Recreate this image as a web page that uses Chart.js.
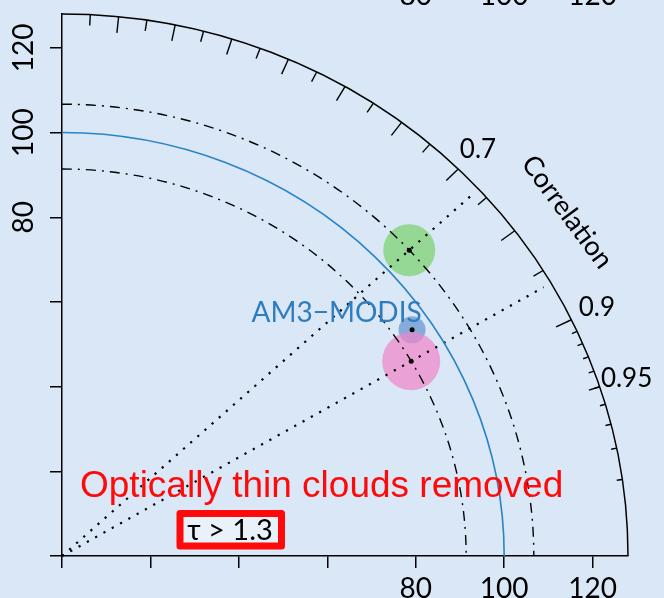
<!DOCTYPE html>
<html>
<head>
<meta charset="utf-8">
<script src="https://cdn.jsdelivr.net/npm/chart.js@4.4.1/dist/chart.umd.min.js"></script>
<style>
  html, body { margin: 0; padding: 0; background: #d9e7f6; }
  #wrap { width: 664px; height: 598px; position: relative; overflow: hidden; }
  canvas { display: block; }
</style>
</head>
<body>
<div id="wrap"><canvas id="taylor" width="664" height="598"></canvas></div>
<script>
// Taylor diagram: radius = standard deviation, angle = correlation with the reference
const seriesNames = ['Run 1', 'Run 2', 'Run 3'];
const stdDev      = [106.7, 91.4, 95.5];
const correlation = [0.736, 0.864, 0.829];
const refStdDev   = 100;
const maxStdDev   = 128;
const tickStep    = 20;
const xTickLabels = [80, 100, 120];
const yTickLabels = [80, 100, 120];
const corrLabels  = [0.7, 0.9, 0.95];
// series that get their own standard-deviation arc and correlation ray
const guideSeries = [0, 1];

// marker styling
const markerRadius = [26, 29, 13.5];
const markerFill = ['rgba(120,210,110,0.72)', 'rgba(240,135,200,0.72)', 'rgba(95,145,205,0.7)'];

const toXY = (sd, c) => ({ x: sd * c, y: sd * Math.sqrt(1 - c * c) });

const FONT = 'Lato';
const INK = '#000';

const taylorGuides = {
  id: 'taylorGuides',
  afterDatasetsDraw(chart) {
    const { ctx, scales: { x, y } } = chart;
    const cx = x.getPixelForValue(0), cy = y.getPixelForValue(0);
    const pt = (sd, c) => [x.getPixelForValue(sd * c), y.getPixelForValue(sd * Math.sqrt(1 - c * c))];
    const quarter = (r) => {
      ctx.beginPath();
      ctx.ellipse(cx, cy, x.getPixelForValue(r) - cx, cy - y.getPixelForValue(r), 0, -Math.PI / 2, 0);
      ctx.stroke();
    };
    ctx.save();

    // correlation rays through the guide series
    ctx.strokeStyle = INK; ctx.lineWidth = 2.2; ctx.setLineDash([2.2, 7.3]);
    guideSeries.forEach(i => {
      const [ex, ey] = pt(maxStdDev * 0.985, correlation[i]);
      ctx.beginPath(); ctx.moveTo(cx, cy); ctx.lineTo(ex, ey); ctx.stroke();
    });

    // standard-deviation arcs through the guide series
    ctx.lineWidth = 1.4; ctx.setLineDash([10, 6, 2, 6]);
    guideSeries.forEach(i => quarter(stdDev[i]));

    // reference standard deviation
    ctx.setLineDash([]);
    ctx.strokeStyle = '#2b83c6'; ctx.lineWidth = 1.6;
    quarter(refStdDev);

    // outer correlation axis
    ctx.strokeStyle = INK; ctx.lineWidth = 1.5;
    quarter(maxStdDev);

    const ticks = (list, frac) => list.forEach(c => {
      const [ox, oy] = pt(maxStdDev, c), [ix, iy] = pt(maxStdDev * frac, c);
      ctx.beginPath(); ctx.moveTo(ox, oy); ctx.lineTo(ix, iy); ctx.stroke();
    });
    const big = [], med = [], small = [];
    for (let k = 1; k <= 9; k++) big.push(k / 10);
    for (let k = 0; k <= 9; k++) med.push(0.05 + k / 10);
    for (let k = 91; k <= 99; k++) small.push(k / 100);
    ctx.lineWidth = 1.4;
    ticks(big, 0.97); ticks(med, 0.98); ticks(small, 0.99);

    // correlation labels
    ctx.fillStyle = INK;
    ctx.font = `26px ${FONT}`;
    ctx.textAlign = 'center'; ctx.textBaseline = 'middle';
    corrLabels.forEach(c => {
      const [lx, ly] = pt(maxStdDev * 1.05, c);
      ctx.fillText(String(c), lx, ly);
    });

    // axis title along the arc
    const cTitle = 0.815, th = Math.acos(cTitle);
    const [tx, ty] = pt(maxStdDev * 1.095, cTitle);
    const sx = x.getPixelForValue(1) - cx, sy = cy - y.getPixelForValue(1);
    ctx.save();
    ctx.translate(tx, ty);
    ctx.rotate(Math.atan2(Math.cos(th) * sy, Math.sin(th) * sx));
    ctx.font = `27px ${FONT}`;
    ctx.fillText('Correlation', 0, 0);
    ctx.restore();

    // label next to the reference arc
    ctx.fillStyle = '#2f7cbf';
    ctx.font = `28px ${FONT}`;
    ctx.fillText('AM3\u2212MODIS', x.getPixelForValue(62.1), y.getPixelForValue(57.4));

    ctx.restore();
  },
  afterDraw(chart) {
    const { ctx, scales: { x } } = chart;
    ctx.save();
    // tick labels of the panel above, cut by the top edge
    ctx.fillStyle = INK;
    ctx.font = `28px ${FONT}`;
    ctx.textAlign = 'center'; ctx.textBaseline = 'alphabetic';
    xTickLabels.forEach(v => ctx.fillText(String(v), x.getPixelForValue(v), 5));

    // annotation
    ctx.fillStyle = '#ff0a0a';
    ctx.font = '37px "Liberation Sans", Arial, sans-serif';
    ctx.textAlign = 'left';
    ctx.fillText('Optically thin clouds removed', 80, 497);

    // boxed threshold
    ctx.fillStyle = 'rgba(238,244,251,0.75)';
    ctx.fillRect(180, 513.5, 101.5, 32.5);
    ctx.strokeStyle = '#ff0a0a'; ctx.lineWidth = 7; ctx.lineJoin = 'round';
    ctx.strokeRect(180, 513.5, 101.5, 32.5);
    ctx.fillStyle = INK;
    ctx.font = `29px ${FONT}`;
    ctx.textAlign = 'center'; ctx.textBaseline = 'middle';
    ctx.fillText('\u03c4 > 1.3', 230, 531);
    ctx.restore();
  }
};

const points = stdDev.map((s, i) => toXY(s, correlation[i]));

const datasets = [
  {
    label: 'centres',
    data: points,
    pointRadius: 2.5,
    pointBackgroundColor: INK,
    pointBorderWidth: 0
  },
  ...seriesNames.map((n, i) => ({
    label: n,
    data: [points[i]],
    pointRadius: markerRadius[i],
    pointHoverRadius: markerRadius[i],
    pointBackgroundColor: markerFill[i],
    pointBorderWidth: 0
  }))
];

const axisCommon = (labels) => ({
  type: 'linear',
  min: 0,
  max: maxStdDev,
  ticks: {
    stepSize: tickStep,
    includeBounds: false,
    autoSkip: false,
    color: INK,
    font: { family: FONT, size: 28 },
    callback: (v) => labels.includes(v) ? String(v) : ''
  },
  grid: { drawOnChartArea: false, drawTicks: true, tickLength: 12, color: INK, lineWidth: 1.5 },
  border: { display: true, color: INK, width: 1.5 }
});

const xAxis = axisCommon(xTickLabels);
xAxis.position = 'bottom';
xAxis.ticks.maxRotation = 0;
xAxis.ticks.padding = 4;
xAxis.afterFit = (s) => { s.height = 42; s.paddingLeft = 0; s.paddingRight = 0; };

const yAxis = axisCommon(yTickLabels);
yAxis.position = 'left';
yAxis.ticks.minRotation = 90;
yAxis.ticks.maxRotation = 90;
yAxis.ticks.crossAlign = 'center';
yAxis.ticks.padding = 2;
yAxis.afterFit = (s) => { s.width = 62; s.paddingTop = 0; s.paddingBottom = 0; };

function draw() {
  new Chart(document.getElementById('taylor'), {
    type: 'scatter',
    data: { datasets },
    options: {
      responsive: false,
      animation: false,
      devicePixelRatio: 1,
      layout: { autoPadding: false, padding: { top: 14, right: 36, left: 0, bottom: 0 } },
      scales: { x: xAxis, y: yAxis },
      plugins: { legend: { display: false }, tooltip: { enabled: false } },
      events: []
    },
    plugins: [taylorGuides]
  });
}

if (document.fonts && document.fonts.load) {
  Promise.all([
    document.fonts.load(`25px ${FONT}`),
    document.fonts.load('37px "Liberation Sans"')
  ]).then(draw, draw);
} else {
  draw();
}
</script>
</body>
</html>
